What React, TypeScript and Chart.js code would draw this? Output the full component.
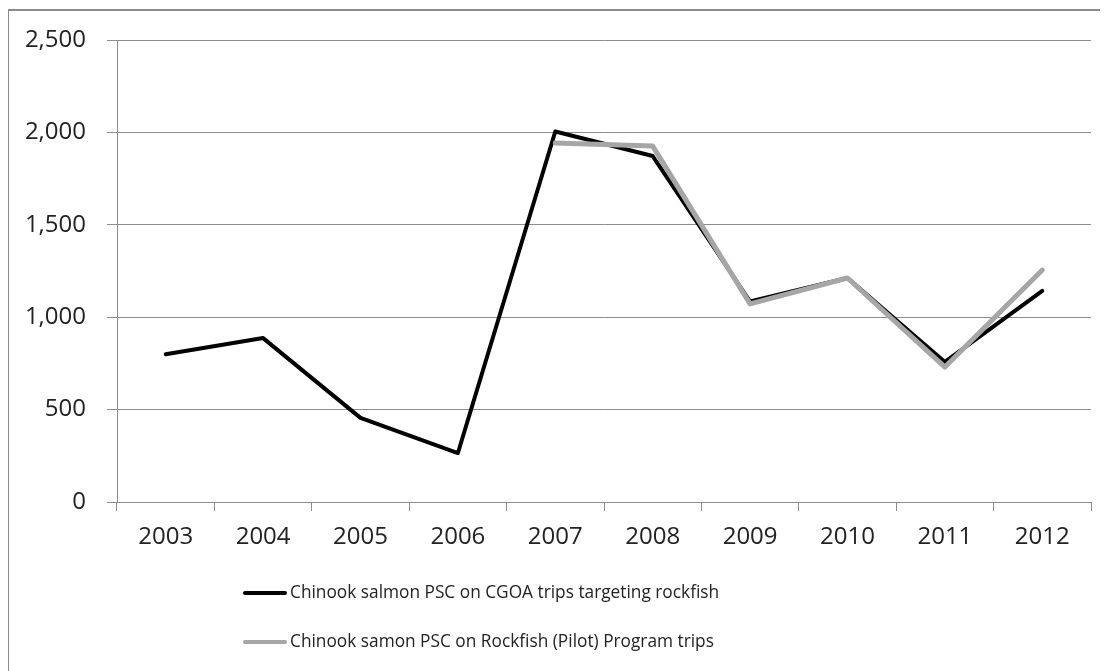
import React, { useEffect, useRef } from "react";
import { Chart, registerables } from "chart.js";

Chart.register(...registerables);

const years = ["2003", "2004", "2005", "2006", "2007", "2008", "2009", "2010", "2011", "2012"];
const cgoaRockfish = [800, 887, 455, 265, 2005, 1872, 1085, 1212, 758, 1142];
const rockfishProgram = [null, null, null, null, 1943, 1926, 1072, 1212, 730, 1255];
const seriesLabels = [
  "Chinook salmon PSC on CGOA trips targeting rockfish",
  "Chinook samon PSC on Rockfish (Pilot) Program trips",
];
const seriesColors = ["#000000", "#a6a6a6"];
const yTicks = [0, 500, 1000, 1500, 2000, 2500];

const FONT = '"Open Sans", "Noto Sans", sans-serif';
const GRID = "#8c8c8c";

const legendPlugin = {
  id: "customLegend",
  afterDraw(chart: any) {
    const ctx = chart.ctx;
    const area = chart.chartArea;
    const x0 = area.left + 128;
    const rows = [area.bottom + 91, area.bottom + 140];
    ctx.save();
    chart.data.datasets.forEach((ds: any, i: number) => {
      const y = rows[i];
      ctx.strokeStyle = ds.borderColor;
      ctx.lineWidth = 4;
      ctx.lineCap = "round";
      ctx.beginPath();
      ctx.moveTo(x0, y);
      ctx.lineTo(x0 + 40, y);
      ctx.stroke();
      ctx.fillStyle = "#222";
      ctx.font = `17.3px ${FONT}`;
      ctx.textBaseline = "middle";
      ctx.textAlign = "left";
      ctx.fillText(ds.label, x0 + 45, y);
    });
    ctx.restore();
  },
};

export default function App() {
  const ref = useRef<HTMLCanvasElement | null>(null);
  useEffect(() => {
    document.body.style.overflow = "hidden";
    document.documentElement.style.overflow = "hidden";
    const chart = new Chart(ref.current as HTMLCanvasElement, {
      type: "line",
      data: {
        labels: years,
        datasets: [
          {
            label: seriesLabels[0],
            data: cgoaRockfish,
            borderColor: seriesColors[0],
            backgroundColor: seriesColors[0],
            borderWidth: 4,
            pointRadius: 0,
            tension: 0,
            fill: false,
            borderJoinStyle: "round",
            borderCapStyle: "round",
            order: 1,
          },
          {
            label: seriesLabels[1],
            data: rockfishProgram,
            borderColor: seriesColors[1],
            backgroundColor: seriesColors[1],
            borderWidth: 5,
            pointRadius: 0,
            tension: 0,
            fill: false,
            borderJoinStyle: "round",
            borderCapStyle: "round",
            order: 0,
          },
        ],
      },
      options: {
        responsive: false,
        animation: false,
        layout: { padding: { top: 29, right: 17, bottom: 121, left: 0 } },
        plugins: {
          legend: { display: false },
          tooltip: { enabled: false },
        },
        scales: {
          x: {
            type: "category",
            offset: true,
            grid: {
              offset: true,
              drawOnChartArea: false,
              drawTicks: true,
              tickLength: 9,
              color: GRID,
              lineWidth: 1,
            },
            border: { display: true, color: GRID, width: 1 },
            ticks: {
              color: "#222",
              font: { family: FONT, size: 24 },
              padding: 12,
              maxRotation: 0,
            },
            afterFit(scale: any) {
              scale.height = 50;
            },
          },
          y: {
            min: 0,
            max: 2500,
            afterBuildTicks(scale: any) {
              scale.ticks = yTicks.map((v) => ({ value: v }));
            },
            grid: {
              color: GRID,
              lineWidth: 1,
              drawTicks: true,
              tickLength: 10,
            },
            border: { display: true, color: GRID, width: 1 },
            ticks: {
              color: "#222",
              font: { family: FONT, size: 24 },
              padding: 21,
              callback: (v: any) => Number(v).toLocaleString("en-US"),
            },
            afterFit(scale: any) {
              scale.width = 108;
              scale.paddingTop = 14;
              scale.paddingBottom = 14;
            },
          },
        },
      },
      plugins: [legendPlugin],
    } as any);
    return () => chart.destroy();
  }, []);
  return (
    <div
      style={{
        position: "relative",
        left: -1,
        top: 1,
        width: 1099,
        height: 662,
        border: "2px solid #8c8c8c",
        background: "#fff",
      }}
    >
      <canvas ref={ref} width={1099} height={662} style={{ display: "block" }} />
    </div>
  );
}
